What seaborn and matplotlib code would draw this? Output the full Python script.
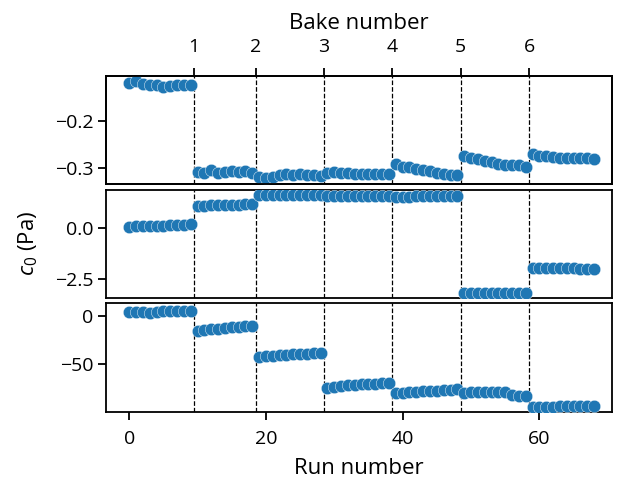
import matplotlib
matplotlib.use("Agg")
import matplotlib.pyplot as plt
import numpy as np
import pandas as pd
import seaborn as sns

# %% data
runs = list(range(69))
bake_runs = [9.5, 18.5, 28.5, 38.5, 48.5, 58.5]
bake_labels = ["1", "2", "3", "4", "5", "6"]

c0_top = [
    -0.120, -0.116, -0.122, -0.124, -0.124, -0.127, -0.125, -0.124, -0.124, -0.124,
    -0.309, -0.310, -0.305, -0.311, -0.308, -0.306, -0.309, -0.307, -0.310,
    -0.320, -0.322, -0.318, -0.314, -0.313, -0.314, -0.313, -0.315, -0.314, -0.317,
    -0.310, -0.308, -0.310, -0.311, -0.312, -0.312, -0.313, -0.312, -0.313, -0.313,
    -0.291, -0.297, -0.298, -0.301, -0.304, -0.306, -0.310, -0.313, -0.314, -0.315,
    -0.274, -0.279, -0.281, -0.285, -0.288, -0.292, -0.294, -0.294, -0.294, -0.297,
    -0.270, -0.274, -0.275, -0.277, -0.278, -0.278, -0.279, -0.279, -0.279, -0.281,
]
c0_mid = [
    0.08, 0.09, 0.10, 0.11, 0.12, 0.13, 0.14, 0.15, 0.17, 0.19,
    1.08, 1.10, 1.12, 1.13, 1.14, 1.15, 1.16, 1.17, 1.18,
    1.62, 1.62, 1.63, 1.63, 1.63, 1.62, 1.62, 1.62, 1.61, 1.61,
    1.59, 1.58, 1.58, 1.58, 1.59, 1.58, 1.58, 1.59, 1.59, 1.58,
    1.55, 1.55, 1.55, 1.56, 1.56, 1.56, 1.57, 1.57, 1.58, 1.60,
    -3.16, -3.16, -3.16, -3.16, -3.16, -3.16, -3.16, -3.16, -3.16, -3.16,
    -1.96, -1.97, -1.97, -1.97, -1.97, -1.97, -1.97, -1.98, -1.98, -1.98,
]
c0_bot = [
    3.5, 3.8, 3.4, 3.0, 3.8, 4.5, 5.0, 5.2, 5.3, 5.3,
    -16.0, -15.0, -14.2, -13.5, -12.8, -12.0, -11.5, -11.0, -10.6,
    -42.5, -41.6, -41.0, -40.5, -40.2, -39.8, -39.5, -39.0, -38.8, -38.8,
    -74.5, -72.8, -72.0, -71.5, -71.0, -70.6, -70.2, -69.8, -69.4, -68.8,
    -79.8, -79.0, -78.6, -78.2, -77.8, -77.4, -77.0, -76.6, -76.2, -75.6,
    -79.0, -78.8, -78.6, -78.5, -78.4, -78.4, -78.6, -82.0, -82.3, -82.5,
    -94.0, -93.8, -93.6, -93.4, -93.2, -93.0, -92.9, -92.8, -92.7, -92.6,
]
panel_yticks = [[-0.2, -0.3], [0.0, -2.5], [0, -50]]
panel_ylims = [(-0.334, -0.104), (-3.42, 1.9), (-98.7, 12.7)]

# %%
sns.set_style("ticks")
plt.rcParams["font.family"] = ["Open Sans", "DejaVu Sans"]
plt.rcParams["mathtext.fontset"] = "custom"
plt.rcParams["mathtext.it"] = "Open Sans:italic"
plt.rcParams["mathtext.rm"] = "Open Sans"
for key in ["text.color", "axes.labelcolor", "xtick.color", "ytick.color", "axes.edgecolor"]:
    plt.rcParams[key] = "black"
plt.rcParams["axes.linewidth"] = 1.3
plt.rcParams["xtick.major.width"] = 1.3
plt.rcParams["ytick.major.width"] = 1.3
plt.rcParams["xtick.major.size"] = 6
plt.rcParams["ytick.major.size"] = 6
plt.rcParams["xtick.major.pad"] = 7
plt.rcParams["ytick.major.pad"] = 3
plt.rcParams["xtick.labelsize"] = 14
plt.rcParams["ytick.labelsize"] = 14

fig, axes = plt.subplots(3, 1, sharex=True, figsize=(6.18, 4.83), dpi=100)
fig.subplots_adjust(left=0.1715, right=0.99, top=0.8433, bottom=0.1476, hspace=0.05)

for ax, vals, yt, yl in zip(axes, [c0_top, c0_mid, c0_bot], panel_yticks, panel_ylims):
    df = pd.DataFrame({"run": runs, "c0": vals})
    sns.scatterplot(data=df, x="run", y="c0", s=80, ax=ax, color="#1f77b4",
                    edgecolor="white", linewidth=0.3, zorder=3)
    for b in bake_runs:
        ax.axvline(b, color="k", ls="--", lw=0.9, zorder=1)
    ax.set_yticks(yt)
    ax.set_ylim(*yl)
    ax.set_ylabel("")
    ax.set_xlabel("")

axes[2].set_xticks([0, 20, 40, 60])
axes[2].set_xlabel("Run number", fontsize=16, labelpad=7.5)
axes[1].set_ylabel("$c_0$ (Pa)", fontsize=16, labelpad=11)
axes[0].set_xlim(-3.4, 70.6)

top = axes[0].twiny()
top.set_xlim(axes[0].get_xlim())
top.set_xticks(bake_runs)
top.set_xticklabels(bake_labels)
top.set_xlabel("Bake number", fontsize=16, labelpad=7)
top.tick_params(axis="x", bottom=False, top=True, pad=8)
axes[0].tick_params(axis="x", bottom=False)
axes[1].tick_params(axis="x", bottom=False)

plt.savefig("out.png", dpi=100)
